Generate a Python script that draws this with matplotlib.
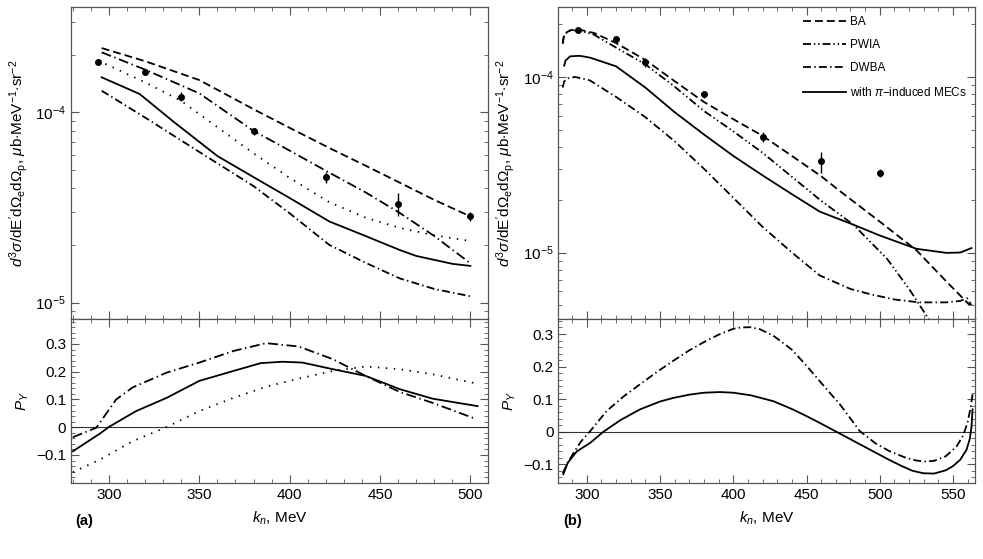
import matplotlib
matplotlib.use('Agg')
import matplotlib.pyplot as plt
from matplotlib.ticker import MultipleLocator, LogLocator, NullFormatter, FixedLocator

plt.rcParams['font.family'] = ['Liberation Sans', 'DejaVu Sans']
plt.rcParams['mathtext.fontset'] = 'custom'
plt.rcParams['mathtext.rm'] = 'Liberation Sans'
plt.rcParams['mathtext.it'] = 'Liberation Sans:italic'
plt.rcParams['mathtext.bf'] = 'Liberation Sans:bold'
plt.rcParams['font.size'] = 11

# experimental points (same in both panels)
k_exp = [294, 320, 340, 380, 420, 460, 500]
sig_exp = [1.85e-4, 1.64e-4, 1.21e-4, 7.95e-5, 4.55e-5, 3.3e-5, 2.84e-5]
sig_err = [5e-6, 5.5e-6, 6.8e-6, 3.2e-6, 3.1e-6, 4.6e-6, 1.6e-6]

# panel (a), cross sections
ka_top = [296, 320, 350, 380, 400, 422, 442, 461, 480, 500]
a_ba = [2.18e-4, 1.86e-4, 1.48e-4, 1.04e-4, 8.3e-5, 6.5e-5, 5.25e-5, 4.27e-5, 3.47e-5, 2.84e-5]
a_pwia = [2.07e-4, 1.68e-4, 1.26e-4, 8.0e-5, 6.3e-5, 4.82e-5, 3.8e-5, 2.96e-5, 2.24e-5, 1.61e-5]
a_dwba = [1.30e-4, 9.4e-5, 6.2e-5, 4.1e-5, 2.95e-5, 2.01e-5, 1.62e-5, 1.34e-5, 1.18e-5, 1.08e-5]
ka_dot = [298, 320, 340, 350, 380, 400, 422, 442, 461, 480, 500]
a_dot = [1.80e-4, 1.44e-4, 1.15e-4, 9.8e-5, 6.1e-5, 4.53e-5, 3.37e-5, 2.8e-5, 2.47e-5, 2.26e-5, 2.11e-5]
ka_sol = [296, 317, 336, 360, 380, 400, 422, 442, 461, 470, 490, 500]
a_sol = [1.53e-4, 1.25e-4, 8.9e-5, 5.9e-5, 4.57e-5, 3.55e-5, 2.67e-5, 2.24e-5, 1.89e-5, 1.76e-5, 1.6e-5, 1.56e-5]

# panel (a), polarization
ka_pol = [280, 293, 304, 313, 332, 350, 369, 387, 405, 424, 442, 461, 479, 503]
a_pol_dwba = [-0.036, -0.002, 0.10, 0.143, 0.197, 0.233, 0.275, 0.303, 0.291, 0.245, 0.185, 0.127, 0.088, 0.030]
ka_pol_sol = [280, 295, 300, 315, 332, 350, 369, 384, 396, 407, 424, 442, 461, 479, 504]
a_pol_sol = [-0.087, -0.023, 0.001, 0.058, 0.106, 0.167, 0.203, 0.231, 0.236, 0.233, 0.209, 0.185, 0.137, 0.103, 0.076]
ka_pol_dot = [280, 295, 313, 332, 350, 369, 387, 405, 424, 442, 461, 479, 503]
a_pol_dot = [-0.162, -0.117, -0.051, 0.001, 0.058, 0.106, 0.146, 0.175, 0.203, 0.219, 0.209, 0.191, 0.158]

# panel (b), cross sections
kb_ba = [283.6, 284.2, 285.5, 289, 295, 305, 320, 340, 360, 380, 400, 420, 440, 460, 473, 500, 525, 545, 561.5]
b_ba = [1.55e-4, 1.68e-4, 1.78e-4, 1.85e-4, 1.86e-4, 1.78e-4, 1.56e-4, 1.25e-4, 9.46e-5, 7.2e-5,
        5.75e-5, 4.62e-5, 3.55e-5, 2.72e-5, 2.23e-5, 1.5e-5, 1.03e-5, 6.9e-6, 5.0e-6]
kb_pwia = [283.6, 284.2, 285.5, 289, 295, 305, 320, 340, 360, 380, 400, 420, 440, 459, 482, 505, 520, 534, 545]
b_pwia = [1.55e-4, 1.68e-4, 1.77e-4, 1.84e-4, 1.84e-4, 1.74e-4, 1.47e-4, 1.18e-4, 8.8e-5, 6.4e-5,
          4.9e-5, 3.7e-5, 2.7e-5, 2.0e-5, 1.44e-5, 9.2e-6, 6.2e-6, 4.1e-6, 2.8e-6]
kb_dwba = [283.6, 284.5, 286.5, 292, 302, 320, 340, 360, 380, 400, 420, 440, 459, 480, 493, 510, 527, 545,
           555, 559.5, 562.6]
b_dwba = [8.7e-5, 9.4e-5, 9.8e-5, 1.0e-4, 9.57e-5, 7.7e-5, 5.9e-5, 4.3e-5, 3.0e-5, 2.05e-5, 1.4e-5,
          1.0e-5, 7.4e-6, 6.2e-6, 5.8e-6, 5.4e-6, 5.2e-6, 5.2e-6, 5.3e-6, 5.5e-6, 5.0e-6]
kb_sol = [284.6, 285.5, 288.6, 295, 302, 320, 330, 340, 360, 380, 400, 420, 440, 459, 482, 500, 525,
          545.6, 555, 562.6]
b_sol = [1.16e-4, 1.24e-4, 1.31e-4, 1.32e-4, 1.29e-4, 1.15e-4, 1.0e-4, 8.7e-5, 6.3e-5, 4.7e-5,
         3.55e-5, 2.75e-5, 2.15e-5, 1.71e-5, 1.44e-5, 1.25e-5, 1.05e-5, 9.95e-6, 1.0e-5, 1.06e-5]

# panel (b), polarization
kb_pol_dwba = [283.6, 287, 290.9, 296, 302.3, 313.6, 325, 336.4, 348, 359.1, 370, 381.9, 391, 400, 405,
               411.4, 418, 427.3, 440, 450.1, 461, 472.8, 486.4, 497, 506.9, 518, 525, 531, 537, 545,
               552.4, 557, 560, 562, 563.3]
b_pol_dwba = [-0.127, -0.095, -0.065, -0.03, 0.002, 0.064, 0.108, 0.146, 0.184, 0.218, 0.250, 0.280, 0.300,
              0.316, 0.320, 0.321, 0.315, 0.295, 0.252, 0.202, 0.145, 0.084, 0.002, -0.035, -0.060, -0.080,
              -0.088, -0.091, -0.089, -0.075, -0.045, -0.010, 0.030, 0.075, 0.115]
kb_pol_sol = [284, 287, 293.2, 302.3, 311.3, 323, 336.4, 350, 359.1, 370, 380, 391, 400, 412, 427.3, 440,
              450.1, 460, 470.5, 483, 495.5, 506, 515, 522, 529.6, 537, 545, 550, 555, 559.2, 561.5,
              562.6, 563.3]
b_pol_sol = [-0.13, -0.095, -0.060, -0.034, 0.0, 0.036, 0.069, 0.093, 0.104, 0.114, 0.120, 0.122, 0.120,
             0.112, 0.094, 0.070, 0.048, 0.025, 0.0, -0.030, -0.060, -0.085, -0.105, -0.119, -0.127, -0.128,
             -0.118, -0.105, -0.085, -0.055, -0.020, 0.017, 0.069]

BA = (0, (4.4, 2.2))
PWIA = (0, (4.4, 1.6, 0.8, 1.6, 0.8, 1.6))
DWBA = (0, (4.4, 1.8, 0.8, 1.8))
DASHDOT_A = (0, (5.5, 2.0, 0.8, 2.0))
DOT = (0, (0.8, 3.6))
LW = 1.3
FRAME = '#555555'

fig = plt.figure(figsize=(9.83, 5.59), dpi=100)
ax_a = fig.add_axes([0.0722, 0.4293, 0.4247, 0.558])
ax_ap = fig.add_axes([0.0722, 0.1365, 0.4247, 0.2928])
ax_b = fig.add_axes([0.568, 0.4293, 0.4239, 0.558])
ax_bp = fig.add_axes([0.568, 0.1365, 0.4239, 0.2928])

ylab = r"$d^3\sigma/\mathrm{dE'd\Omega_e d\Omega_p}$, $\mu\mathrm{b{\cdot}MeV^{-1}{\cdot}sr^{-2}}$"


def style(ax, xmin, xmax):
    ax.set_xlim(xmin, xmax)
    ax.xaxis.set_major_locator(MultipleLocator(50))
    ax.xaxis.set_minor_locator(MultipleLocator(10))
    ax.tick_params(which='both', direction='in', top=True, right=True, color=FRAME, labelcolor='black',
                   labelsize=11)
    ax.tick_params(which='major', length=6, width=0.8)
    ax.tick_params(which='minor', length=3, width=0.6)
    for s in ax.spines.values():
        s.set_color(FRAME)
        s.set_linewidth(0.9)


def style_log(ax, ymin, ymax):
    ax.set_yscale('log')
    ax.set_ylim(ymin, ymax)
    ax.yaxis.set_major_locator(FixedLocator([1e-5, 1e-4]))
    ax.yaxis.set_minor_locator(LogLocator(base=10, subs=range(2, 10)))
    ax.yaxis.set_minor_formatter(NullFormatter())
    ax.tick_params(axis='x', labelbottom=False)
    ax.set_ylabel(ylab, labelpad=4)


def style_pol(ax, ymin, ymax):
    ax.set_ylim(ymin, ymax)
    ax.set_yticks([-0.1, 0, 0.1, 0.2, 0.3])
    ax.set_yticklabels(['\u22120.1', '0', '0.1', '0.2', '0.3'])
    ax.yaxis.set_minor_locator(MultipleLocator(0.02))
    ax.axhline(0, color='#333333', lw=0.8)
    ax.set_ylabel(r'$P_Y$', labelpad=4)
    ax.set_xlabel(r'$k_n$, MeV', labelpad=6)


# (a)
style(ax_a, 279, 510)
style_log(ax_a, 8.2e-6, 3.58e-4)
ax_a.plot(ka_top, a_ba, color='black', lw=LW, linestyle=BA)
ax_a.plot(ka_top, a_pwia, color='black', lw=LW, linestyle=DASHDOT_A)
ax_a.plot(ka_dot, a_dot, color='black', lw=LW, linestyle=DOT)
ax_a.plot(ka_sol, a_sol, color='black', lw=LW)
ax_a.plot(ka_top, a_dwba, color='black', lw=LW, linestyle=DWBA)
ax_a.errorbar(k_exp, sig_exp, yerr=sig_err, fmt='o', color='black', ms=4, elinewidth=1, capsize=0)

style(ax_ap, 279, 510)
style_pol(ax_ap, -0.2, 0.39)
ax_ap.plot(ka_pol, a_pol_dwba, color='black', lw=LW, linestyle=DASHDOT_A)
ax_ap.plot(ka_pol_sol, a_pol_sol, color='black', lw=LW)
ax_ap.plot(ka_pol_dot, a_pol_dot, color='black', lw=LW, linestyle=DOT)

# (b)
style(ax_b, 280.6, 565)
style_log(ax_b, 4.18e-6, 2.5e-4)
ax_b.plot(kb_ba, b_ba, color='black', lw=LW, linestyle=BA, label='BA')
ax_b.plot(kb_pwia, b_pwia, color='black', lw=LW, linestyle=PWIA, label='PWIA')
ax_b.plot(kb_dwba, b_dwba, color='black', lw=LW, linestyle=DWBA, label='DWBA')
ax_b.plot(kb_sol, b_sol, color='black', lw=LW, label=r'with $\pi$$-$induced MECs')
ax_b.errorbar(k_exp, sig_exp, yerr=sig_err, fmt='o', color='black', ms=4, elinewidth=1, capsize=0)
ax_b.legend(loc='upper left', bbox_to_anchor=(803 / 983, 1 - 16 / 559), bbox_transform=fig.transFigure,
            frameon=False, fontsize=8.5, handlelength=3.6, handletextpad=0.35, labelspacing=0.95,
            borderpad=0, borderaxespad=0)

style(ax_bp, 280.6, 565)
style_pol(ax_bp, -0.156, 0.346)
ax_bp.plot(kb_pol_dwba, b_pol_dwba, color='black', lw=LW, linestyle=DWBA)
ax_bp.plot(kb_pol_sol, b_pol_sol, color='black', lw=LW)

fig.text(75 / 983, 1 - 521 / 559, '(a)', fontweight='bold', fontsize=10.5, va='center')
fig.text(563 / 983, 1 - 521 / 559, '(b)', fontweight='bold', fontsize=10.5, va='center')

fig.savefig('out.png', dpi=100)
